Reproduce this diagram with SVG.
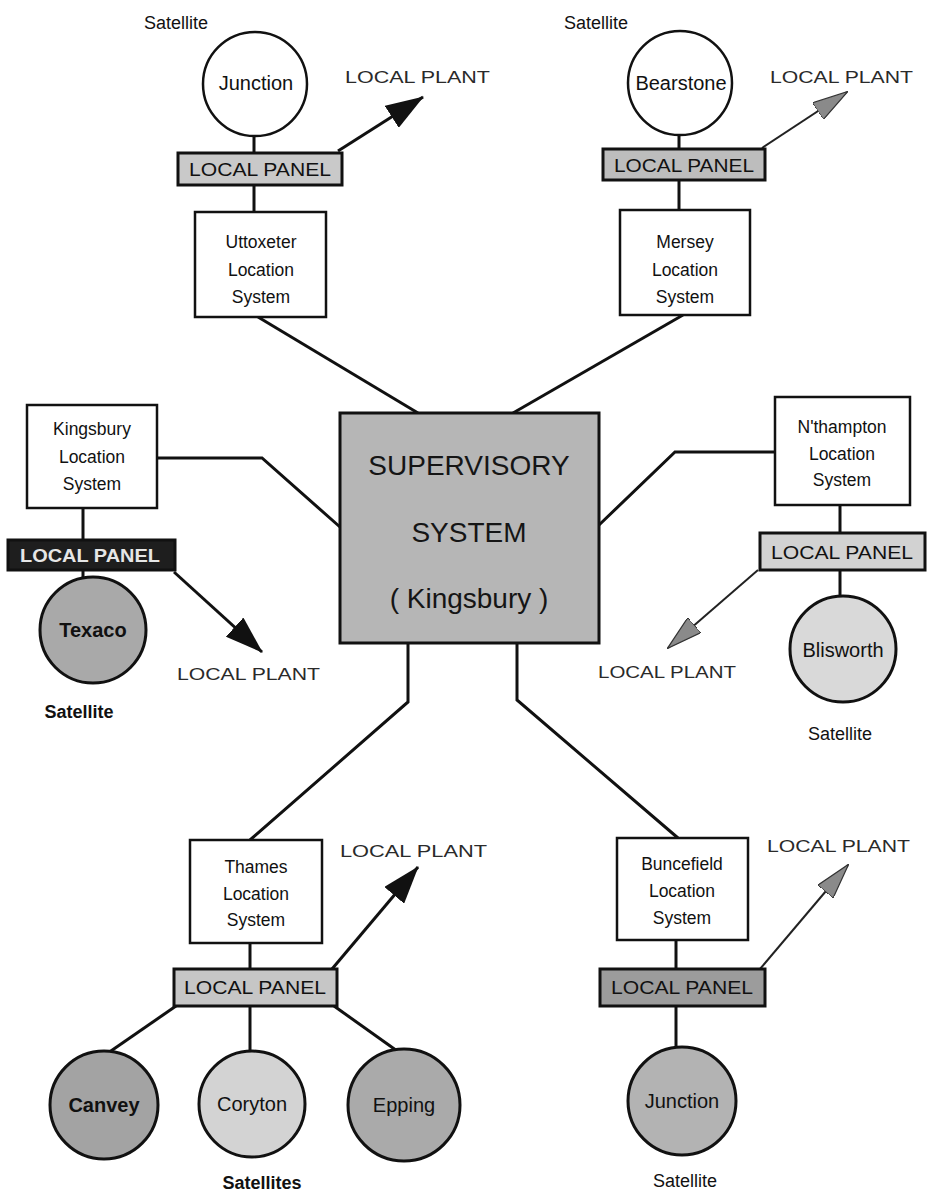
<svg xmlns="http://www.w3.org/2000/svg" width="929" height="1193" viewBox="0 0 929 1193">
  <style>
    text { font-family: "Liberation Sans", Arial, sans-serif; fill: #111; }
    .box { fill: #ffffff; stroke: #111; stroke-width: 2.5; }
    .boxtxt { font-size: 17.5px; text-anchor: middle; }
    .panel { stroke: #111; stroke-width: 3; }
    .paneltxt { font-size: 19px; text-anchor: middle; }
    .sat { stroke: #111; stroke-width: 3; }
    .sattxt { font-size: 20px; text-anchor: middle; }
    .cap { font-size: 18px; text-anchor: middle; }
    .plant { font-size: 17px; fill: #2a2a2a; }
    .link { fill: none; stroke: #111; stroke-width: 3; stroke-linejoin: miter; }
    .out { fill: none; stroke: #111; stroke-width: 3; }
    .outg { fill: none; stroke: #222; stroke-width: 2; }
    .super { font-size: 28px; text-anchor: middle; fill: #151515; }
  </style>
  <defs>
    <marker id="headBlack" markerUnits="userSpaceOnUse" viewBox="0 0 38 26" refX="37" refY="13" markerWidth="38" markerHeight="26" orient="auto">
      <path d="M0,0 L38,13 L0,26 Z" fill="#111"/>
    </marker>
    <marker id="headGrey" markerUnits="userSpaceOnUse" viewBox="0 0 36 20" refX="35" refY="10" markerWidth="36" markerHeight="20" orient="auto">
      <path d="M0,0 L36,10 L0,20 Z" fill="#8a8a8a" stroke="#333" stroke-width="1.2"/>
    </marker>
  </defs>

  <rect width="929" height="1193" fill="#ffffff"/>

  <!-- connectors -->
  <g id="connectors">
    <!-- location systems to the supervisory system -->
    <polyline class="link" points="258,317 418,413"/>
    <polyline class="link" points="683,315 513,413"/>
    <polyline class="link" points="157,458 262,458 340,527"/>
    <polyline class="link" points="775,452 675,452 599,525"/>
    <polyline class="link" points="408,643 408,702 250,840"/>
    <polyline class="link" points="517,643 517,700 678,838"/>
    <!-- satellite / panel / location chains -->
    <line class="link" x1="254" y1="136" x2="254" y2="153"/>
    <line class="link" x1="254" y1="185" x2="254" y2="212"/>
    <line class="link" x1="679" y1="135" x2="679" y2="149"/>
    <line class="link" x1="679" y1="180" x2="679" y2="210"/>
    <line class="link" x1="83" y1="508" x2="83" y2="540"/>
    <line class="link" x1="83" y1="570" x2="83" y2="577"/>
    <line class="link" x1="840" y1="505" x2="840" y2="533"/>
    <line class="link" x1="840" y1="570" x2="840" y2="596"/>
    <line class="link" x1="250" y1="943" x2="250" y2="969"/>
    <line class="link" x1="176" y1="1006" x2="108" y2="1053"/>
    <line class="link" x1="250" y1="1006" x2="250" y2="1051"/>
    <line class="link" x1="334" y1="1006" x2="400" y2="1053"/>
    <line class="link" x1="676" y1="940" x2="676" y2="969"/>
    <line class="link" x1="676" y1="1006" x2="676" y2="1047"/>
    <!-- local plant outputs -->
    <line class="out" x1="338" y1="151" x2="423" y2="97" marker-end="url(#headBlack)"/>
    <line class="outg" x1="762" y1="148" x2="847" y2="92" marker-end="url(#headGrey)"/>
    <line class="out" x1="174" y1="572" x2="262" y2="652" marker-end="url(#headBlack)"/>
    <line class="outg" x1="758" y1="570" x2="668" y2="648" marker-end="url(#headGrey)"/>
    <line class="out" x1="332" y1="969" x2="418" y2="867" marker-end="url(#headBlack)"/>
    <line class="outg" x1="760" y1="969" x2="848" y2="865" marker-end="url(#headGrey)"/>
  </g>

  <!-- central supervisory system -->
  <g id="supervisory">
    <rect x="340" y="413" width="259" height="230" fill="#b6b6b6" stroke="#111" stroke-width="3"/>
    <text class="super" x="469" y="475">SUPERVISORY</text>
    <text class="super" x="469" y="542">SYSTEM</text>
    <text class="super" x="469" y="608">( Kingsbury )</text>
  </g>

  <!-- Uttoxeter branch -->
  <g id="uttoxeter-satellite">
    <circle cx="255" cy="84" r="52" fill="#ffffff" stroke="#111" stroke-width="2.5"/>
    <text class="sattxt" x="256" y="90">Junction</text>
    <text class="cap" x="176" y="29">Satellite</text>
  </g>
  <g id="uttoxeter-panel">
    <rect class="panel" x="178" y="153" width="164" height="32" fill="#c9c9c9"/>
    <text class="paneltxt" x="260" y="176" textLength="142" lengthAdjust="spacingAndGlyphs">LOCAL PANEL</text>
  </g>
  <g id="uttoxeter-plant">
    <text class="plant" x="345" y="83" textLength="145" lengthAdjust="spacingAndGlyphs">LOCAL PLANT</text>
  </g>
  <g id="uttoxeter">
    <rect class="box" x="195" y="212" width="131" height="105"/>
    <text class="boxtxt" x="261" y="248">Uttoxeter</text>
    <text class="boxtxt" x="261" y="276">Location</text>
    <text class="boxtxt" x="261" y="303">System</text>
  </g>

  <!-- Mersey branch -->
  <g id="mersey-satellite">
    <circle cx="680" cy="83" r="52" fill="#ffffff" stroke="#111" stroke-width="2.5"/>
    <text class="sattxt" x="681" y="90">Bearstone</text>
    <text class="cap" x="596" y="29">Satellite</text>
  </g>
  <g id="mersey-panel">
    <rect class="panel" x="603" y="149" width="162" height="31" fill="#bdbdbd"/>
    <text class="paneltxt" x="684" y="172" textLength="140" lengthAdjust="spacingAndGlyphs">LOCAL PANEL</text>
  </g>
  <g id="mersey-plant">
    <text class="plant" x="770" y="83" textLength="143" lengthAdjust="spacingAndGlyphs">LOCAL PLANT</text>
  </g>
  <g id="mersey">
    <rect class="box" x="620" y="210" width="130" height="105"/>
    <text class="boxtxt" x="685" y="248">Mersey</text>
    <text class="boxtxt" x="685" y="276">Location</text>
    <text class="boxtxt" x="685" y="303">System</text>
  </g>

  <!-- Kingsbury branch -->
  <g id="kingsbury">
    <rect class="box" x="27" y="405" width="130" height="103"/>
    <text class="boxtxt" x="92" y="435">Kingsbury</text>
    <text class="boxtxt" x="92" y="463">Location</text>
    <text class="boxtxt" x="92" y="490">System</text>
  </g>
  <g id="kingsbury-panel">
    <rect class="panel" x="8" y="540" width="167" height="30" fill="#1e1e1e"/>
    <text class="paneltxt" x="90" y="562" textLength="140" lengthAdjust="spacingAndGlyphs" style="fill:#e6e6e6;font-weight:bold">LOCAL PANEL</text>
  </g>
  <g id="kingsbury-satellite">
    <circle class="sat" cx="93" cy="630" r="53" fill="#a9a9a9"/>
    <text class="sattxt" x="93" y="637" style="font-weight:bold">Texaco</text>
    <text class="cap" x="79" y="718" style="font-weight:bold">Satellite</text>
  </g>
  <g id="kingsbury-plant">
    <text class="plant" x="177" y="680" textLength="143" lengthAdjust="spacingAndGlyphs">LOCAL PLANT</text>
  </g>

  <!-- N'thampton branch -->
  <g id="nthampton">
    <rect class="box" x="775" y="397" width="135" height="108"/>
    <text class="boxtxt" x="842" y="433">N'thampton</text>
    <text class="boxtxt" x="842" y="460">Location</text>
    <text class="boxtxt" x="842" y="486">System</text>
  </g>
  <g id="nthampton-panel">
    <rect class="panel" x="760" y="533" width="165" height="37" fill="#d2d2d2"/>
    <text class="paneltxt" x="842" y="559" textLength="142" lengthAdjust="spacingAndGlyphs">LOCAL PANEL</text>
  </g>
  <g id="nthampton-satellite">
    <circle class="sat" cx="843" cy="649" r="53" fill="#d9d9d9" stroke-width="2.5"/>
    <text class="sattxt" x="843" y="657">Blisworth</text>
    <text class="cap" x="840" y="740">Satellite</text>
  </g>
  <g id="nthampton-plant">
    <text class="plant" x="598" y="678" textLength="138" lengthAdjust="spacingAndGlyphs">LOCAL PLANT</text>
  </g>

  <!-- Thames branch -->
  <g id="thames">
    <rect class="box" x="190" y="840" width="132" height="103"/>
    <text class="boxtxt" x="256" y="873">Thames</text>
    <text class="boxtxt" x="256" y="900">Location</text>
    <text class="boxtxt" x="256" y="926">System</text>
  </g>
  <g id="thames-panel">
    <rect class="panel" x="174" y="969" width="163" height="37" fill="#c6c6c6"/>
    <text class="paneltxt" x="255" y="994" textLength="142" lengthAdjust="spacingAndGlyphs">LOCAL PANEL</text>
  </g>
  <g id="thames-plant">
    <text class="plant" x="340" y="857" textLength="147" lengthAdjust="spacingAndGlyphs">LOCAL PLANT</text>
  </g>
  <g id="canvey">
    <circle class="sat" cx="104" cy="1105" r="54" fill="#a3a3a3"/>
    <text class="sattxt" x="104" y="1112" style="font-weight:bold">Canvey</text>
  </g>
  <g id="coryton">
    <circle class="sat" cx="252" cy="1104" r="53" fill="#d3d3d3"/>
    <text class="sattxt" x="252" y="1111">Coryton</text>
  </g>
  <g id="epping">
    <circle class="sat" cx="404" cy="1105" r="56" fill="#aaaaaa"/>
    <text class="sattxt" x="404" y="1112">Epping</text>
  </g>
  <g id="thames-satellites-label">
    <text class="cap" x="262" y="1189" style="font-weight:bold">Satellites</text>
  </g>

  <!-- Buncefield branch -->
  <g id="buncefield">
    <rect class="box" x="617" y="838" width="131" height="102"/>
    <text class="boxtxt" x="682" y="870">Buncefield</text>
    <text class="boxtxt" x="682" y="897">Location</text>
    <text class="boxtxt" x="682" y="924">System</text>
  </g>
  <g id="buncefield-panel">
    <rect class="panel" x="600" y="969" width="165" height="37" fill="#9c9c9c"/>
    <text class="paneltxt" x="682" y="994" textLength="142" lengthAdjust="spacingAndGlyphs">LOCAL PANEL</text>
  </g>
  <g id="buncefield-plant">
    <text class="plant" x="767" y="852" textLength="143" lengthAdjust="spacingAndGlyphs">LOCAL PLANT</text>
  </g>
  <g id="buncefield-satellite">
    <circle class="sat" cx="682" cy="1101" r="54" fill="#b3b3b3"/>
    <text class="sattxt" x="682" y="1108">Junction</text>
    <text class="cap" x="685" y="1187">Satellite</text>
  </g>
</svg>
